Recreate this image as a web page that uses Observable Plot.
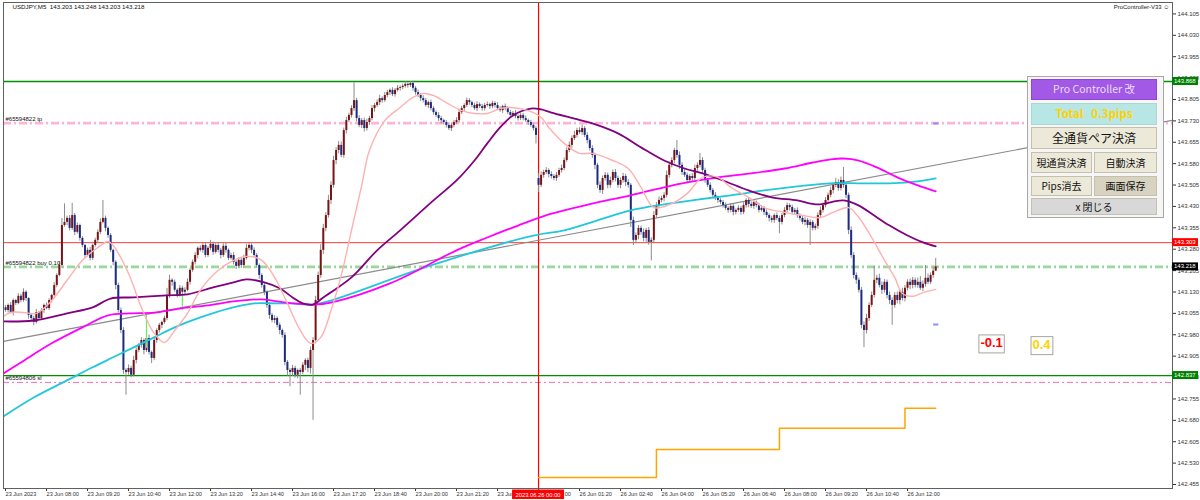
<!DOCTYPE html>
<html><head><meta charset="utf-8">
<script src="https://cdn.jsdelivr.net/npm/d3@7"></script>
<script src="https://cdn.jsdelivr.net/npm/@observablehq/plot@0.6"></script>
<style>
body{margin:0;background:#fff;width:1200px;height:500px;overflow:hidden;font-family:"Liberation Sans",Arial,sans-serif;}
#wrap{position:relative;width:1200px;height:500px;}
#wrap svg{display:block;}
.panel{position:absolute;left:1027px;top:76px;width:137px;height:142px;background:#f6f6f6;border:1px solid #a8a8a8;box-sizing:border-box;}
.btn{position:absolute;box-sizing:border-box;display:flex;align-items:center;justify-content:center;font-family:"Noto Sans CJK JP",sans-serif;border:1px solid #c4c0ac;background:#ece9d8;color:#111;white-space:pre;line-height:1;}
</style></head>
<body><div id="wrap"></div>
<script>
// ---- data (USDJPY M5, bar index 0 = 23 Jun 06:40, bar 208 = 26 Jun 00:00) ----
const firstOpen = 143.075;
const mondayBar = 208, mondayOpen = 143.528;
const closes = [
143.065,143.083,143.058,143.100,143.090,143.115,143.100,143.129,143.107,143.048,
143.037,143.023,143.058,143.037,143.065,143.083,143.072,143.100,143.118,143.153,
143.188,143.223,143.363,143.374,143.388,143.353,143.398,143.339,143.363,143.318,
143.293,143.258,143.276,143.248,143.293,143.311,143.339,143.374,143.388,143.353,
143.328,143.276,143.234,143.153,143.065,142.995,142.855,142.848,142.862,142.838,
142.890,142.925,142.943,142.960,142.925,142.967,142.918,142.897,142.960,142.995,
143.013,143.023,143.037,143.118,143.171,143.164,143.136,143.118,143.143,143.129,
143.136,143.164,143.206,143.234,143.258,143.283,143.276,143.293,143.258,143.283,
143.297,143.269,143.293,143.276,143.258,143.290,143.276,143.248,143.258,143.234,
143.220,143.241,143.223,143.248,143.283,143.293,143.276,143.258,143.223,143.188,
143.153,143.129,143.083,143.048,143.030,143.037,143.013,142.995,142.978,142.883,
142.855,142.848,142.862,142.838,142.855,142.848,142.873,142.890,142.862,142.925,
142.960,143.100,143.188,143.276,143.353,143.398,143.451,143.504,143.591,143.626,
143.644,143.609,143.696,143.731,143.749,143.773,143.801,143.738,143.714,143.731,
143.703,143.724,143.738,143.773,143.784,143.794,143.808,143.801,143.819,143.829,
143.837,143.822,143.837,143.844,143.847,143.851,143.858,143.854,143.861,143.844,
143.829,143.819,143.808,143.801,143.784,143.794,143.773,143.759,143.749,143.738,
143.731,143.724,143.714,143.703,143.714,143.724,143.731,143.759,143.773,143.784,
143.801,143.794,143.784,143.773,143.787,143.780,143.773,143.784,143.787,143.780,
143.791,143.784,143.773,143.766,143.780,143.773,143.759,143.749,143.756,143.745,
143.738,143.749,143.738,143.731,143.724,143.714,143.703,143.679,143.504,143.539,
143.549,143.556,143.542,143.535,143.528,143.539,143.556,143.563,143.591,143.626,
143.644,143.668,143.679,143.696,143.689,143.703,143.679,143.661,143.633,143.609,
143.574,143.504,143.486,143.528,143.539,143.504,143.521,143.549,143.528,143.504,
143.521,143.535,143.514,143.504,143.381,143.311,143.328,143.353,143.339,143.318,
143.346,143.304,143.311,143.398,143.433,143.451,143.458,143.469,143.539,143.574,
143.591,143.626,143.609,143.574,143.549,143.539,143.521,143.535,143.528,143.563,
143.574,143.591,143.556,143.521,143.504,143.486,143.469,143.458,143.451,143.444,
143.433,143.423,143.416,143.430,143.409,143.416,143.423,143.409,143.433,143.451,
143.437,143.430,143.444,143.433,143.416,143.423,143.409,143.398,143.388,143.381,
143.398,143.388,143.374,143.398,143.416,143.433,143.426,143.409,143.416,143.398,
143.388,143.374,143.381,143.363,143.374,143.353,143.360,143.398,143.416,143.433,
143.451,143.469,143.486,143.504,143.514,143.493,143.521,143.504,143.469,143.346,
143.258,143.188,143.171,143.136,143.013,142.995,143.037,143.083,143.118,143.171,
143.178,143.153,143.136,143.164,143.118,143.100,143.083,143.118,143.100,143.129,
143.107,143.143,143.164,143.153,143.171,143.153,143.164,143.143,143.157,143.178,
143.164,143.188,143.203,143.218];
// wick extents beyond the body, in 0.001
const wickUp = [
8,5,10,6,4,9,7,12,5,3,6,8,11,4,7,5,9,6,4,10,
6,12,25,65,8,10,43,7,9,5,6,4,8,10,5,7,9,12,63,8,
5,7,4,6,8,9,10,6,12,8,15,9,7,10,6,8,12,5,9,6,
7,5,9,25,18,6,8,5,10,7,9,12,6,8,10,5,9,7,11,6,
14,8,6,10,7,9,12,5,8,10,6,9,7,11,15,8,6,9,7,5,
6,8,5,9,7,10,6,8,5,9,7,6,10,8,5,7,9,6,8,12,
10,15,12,20,14,10,18,12,15,10,14,12,9,11,8,10,62,8,10,7,
9,12,8,10,7,9,12,6,10,8,5,9,7,10,6,8,9,5,7,8,
6,9,7,10,8,5,9,7,6,10,8,5,7,9,6,8,10,12,8,6,
9,7,5,8,10,6,8,7,9,5,8,6,10,7,5,9,6,8,7,10,
6,8,7,9,5,8,6,7,17,12,8,10,6,9,7,10,8,12,9,10,
12,9,15,8,10,12,7,9,6,10,8,7,12,9,10,8,12,9,10,8,
9,11,8,10,6,12,9,10,8,12,7,10,9,14,10,12,8,9,15,12,
10,8,35,12,9,10,8,7,10,12,9,25,10,8,6,9,7,10,8,6,
7,9,6,10,8,5,9,7,10,6,8,9,7,5,8,10,7,9,6,8,
6,9,8,7,10,9,6,8,7,9,6,8,10,7,9,6,8,10,12,9,
10,8,12,9,14,10,12,46,10,8,12,10,9,8,10,12,15,9,12,50,
10,14,12,10,8,12,9,10,12,8,14,10,9,12,10,8,15,20,12,45,15,9,12,30];
const wickDn = [
6,9,4,12,7,5,8,6,10,14,9,11,5,8,6,10,4,7,9,5,
8,5,10,6,12,9,7,11,6,10,8,12,5,9,7,6,10,8,5,12,
10,8,12,15,9,11,14,80,10,9,6,12,8,10,15,7,9,18,8,10,
9,12,6,8,10,14,7,9,6,11,8,5,10,7,9,12,6,10,8,7,
8,10,6,9,12,7,10,8,6,9,11,7,10,8,6,9,12,7,10,14,
9,12,10,14,8,11,9,15,10,12,20,50,14,10,12,80,9,18,15,20,
245,12,8,10,15,12,9,14,10,15,12,8,10,12,7,9,10,12,8,11,
12,9,10,8,12,7,10,9,6,8,10,7,9,6,10,8,6,9,7,10,
9,7,10,8,6,11,8,9,7,10,12,8,9,7,10,8,6,9,7,10,
7,9,8,6,10,7,9,8,6,10,7,9,8,6,10,8,7,9,6,8,
9,7,8,6,10,7,9,30,25,8,10,7,12,9,8,10,7,9,8,6,
8,10,7,9,6,10,8,12,9,10,15,12,10,14,9,12,10,8,12,10,
12,9,14,10,25,18,12,15,10,12,14,10,65,12,9,10,8,12,9,10,
9,12,10,14,10,8,9,10,12,8,10,9,12,10,8,9,12,7,10,8,
9,7,10,8,12,9,7,10,8,9,12,7,10,8,9,6,10,8,12,9,
10,8,40,9,8,10,12,9,7,10,9,8,12,10,70,9,8,10,8,9,
8,10,9,12,8,10,9,10,12,15,10,12,14,10,12,60,12,10,8,9,
12,9,15,10,12,14,70,10,12,15,9,12,10,14,12,9,10,8,12,10,9,8,10,0];

// moving averages (bar, price)
const pinkBars = [-2,2,7,12,18,24,30,36,40,42,48,53,58,62,66,71,76,83,89,94,100,105,110,115,119,123,127,131,135,139,142,148,154,159,163,167,172,178,183,188,193,197,204,209,212,218,224,229,237,243,248,253,260,266,272,278,283,290,296,304,311,318,323,329,333,338,343,347,350,354,358,363];
const pinkVals = [143.037,143.058,143.058,143.055,143.100,143.171,143.241,143.286,143.307,143.293,143.195,143.076,142.985,142.953,142.995,143.055,143.136,143.206,143.241,143.255,143.241,143.181,143.090,142.995,142.950,142.971,143.065,143.188,143.346,143.504,143.626,143.731,143.777,143.812,143.826,143.819,143.794,143.766,143.756,143.756,143.773,143.777,143.766,143.742,143.707,143.651,143.616,143.616,143.591,143.563,143.497,143.426,143.440,143.475,143.532,143.532,143.497,143.462,143.426,143.409,143.398,143.391,143.409,143.426,143.391,143.321,143.241,143.181,143.125,143.115,143.128,143.139];
const purpleBars = [-2,11,24,34,41,50,63,71,81,89,94,101,107,112,116,120,124,127,135,145,154,167,176,183,188,193,198,205,209,213,222,229,239,248,257,265,272,280,290,299,309,317,327,333,339,345,352,358,363];
const purpleVals = [143.027,143.030,143.055,143.076,143.107,143.111,143.118,143.122,143.146,143.164,143.174,143.164,143.143,143.111,143.090,143.086,143.111,143.129,143.181,143.276,143.346,143.451,143.521,143.591,143.651,143.707,143.749,143.773,143.770,143.759,143.738,143.721,143.686,143.637,143.591,143.563,143.546,143.521,143.486,143.462,143.451,143.437,143.451,143.433,143.398,143.363,143.328,143.304,143.290];
const magentaBars = [-2,6,18,30,40,48,58,68,79,89,100,106,112,120,127,150,176,188,200,212,218,231,244,257,266,278,291,304,315,322,327,333,340,348,356,363];
const magentaVals = [142.838,142.883,142.950,143.006,143.048,143.055,143.058,143.072,143.083,143.097,143.104,143.097,143.090,143.086,143.093,143.160,143.276,143.321,143.363,143.402,143.416,143.444,143.469,143.497,143.514,143.532,143.546,143.563,143.584,143.595,143.598,143.591,143.567,143.532,143.504,143.483];
const cyanBars = [-2,11,24,34,42,50,58,66,76,87,97,105,112,120,127,166,206,218,231,244,257,270,283,296,309,322,333,345,356,363];
const cyanVals = [142.687,142.760,142.820,142.866,142.901,142.936,142.971,143.006,143.041,143.072,143.090,143.090,143.090,143.086,143.100,143.223,143.328,143.346,143.381,143.416,143.437,143.454,143.469,143.486,143.500,143.511,143.511,143.511,143.518,143.528];

// trend line anchors (bar, price)
const trendBars = [0, 363];
const trendVals = [142.958, 143.575];
// orange step indicator
const stepBars = [208, 254, 302, 351, 363];
const stepVals = [142.480, 142.578, 142.652, 142.722, 142.722];
// order / level lines
const levelHigh = 143.868, levelRed = 143.303, levelBid = 143.218, levelLow = 142.837;
const tpLevel = 143.722, slLevel = 142.813;
const orderLabels = ["#65594822 tp", "#65594822 buy 0.10", "#65594806 sl"];
const orderLabelLevels = [tpLevel, levelBid, slLevel];
const signalBars = [55, 69];
const signalTop = [143.048, 143.118];
const signalBot = [142.932, 143.065];
const markerBars = [363.2, 363.2];
const markerVals = [143.721, 143.016];
const pipTexts = ["-0.1", "0.4"];
const pipColors = ["#ff0000", "#ffd200"];
const pipBars = [384.8, 404.3];
const pipVals = [142.952, 142.946];
// axes
const yTicks = [142.455,142.530,142.605,142.680,142.755,142.830,142.905,142.980,143.055,143.130,143.205,143.280,143.355,143.430,143.505,143.580,143.655,143.730,143.805,143.880,143.955,144.030,144.105];
const xTicks = [0,16,32,48,64,80,96,112,128,144,160,176,192,208,224,240,256,272,288,304,320,336,352];
const xLabels = ["23 Jun 2023","23 Jun 08:00","23 Jun 09:20","23 Jun 10:40","23 Jun 12:00","23 Jun 13:20","23 Jun 14:40","23 Jun 16:00","23 Jun 17:20","23 Jun 18:40","23 Jun 20:00","23 Jun 21:20","23 Jun 22:40","26 Jun 00:00","26 Jun 01:20","26 Jun 02:40","26 Jun 04:00","26 Jun 05:20","26 Jun 06:40","26 Jun 08:00","26 Jun 09:20","26 Jun 10:40","26 Jun 12:00"];
const priceTags = [levelHigh, levelRed, levelBid, levelLow];
const priceTagColors = ["#008000", "#ff0000", "#000000", "#008000"];
const headerText = "USDJPY,M5  143.203 143.248 143.203 143.218";
const separatorLabel = "2023.06.26 00:00";

// ---- build tables ----
const candles = closes.map((c, i) => {
  const o = i === 0 ? firstOpen : (i === mondayBar ? mondayOpen : closes[i - 1]);
  return {i, o, c, h: Math.max(o, c) + wickUp[i] / 1000, l: Math.min(o, c) - wickDn[i] / 1000};
});
const pts = (b, v) => b.map((x, k) => ({i: x, p: v[k]}));
const xDom = [-0.8, 455.4];
const slope = (trendVals[1] - trendVals[0]) / (trendBars[1] - trendBars[0]);
const trend = xDom.map(x => ({i: x, p: trendVals[0] + slope * (x - trendBars[0])}));
const dd = "8,3,2,3";

const chart = Plot.plot({
  width: 1200, height: 500,
  marginLeft: 3, marginRight: 28, marginTop: 2, marginBottom: 12,
  style: {fontFamily: "'Liberation Sans', Arial, sans-serif", fontSize: "6px", background: "#fff", overflow: "visible"},
  x: {domain: xDom},
  y: {domain: [142.441, 144.145]},
  marks: [
    Plot.ruleY([levelHigh], {stroke: "#009000", strokeWidth: 1.3}),
    Plot.ruleY([tpLevel], {stroke: "#ffb4d6", strokeWidth: 2.6, strokeDasharray: dd}),
    Plot.ruleY([levelRed], {stroke: "#ff3b3b", strokeWidth: 1}),
    Plot.ruleY([levelBid], {stroke: "#98d898", strokeWidth: 2.6, strokeDasharray: dd}),
    Plot.ruleY([levelLow], {stroke: "#009000", strokeWidth: 1.3}),
    Plot.ruleY([slLevel], {stroke: "#ff69b4", strokeWidth: 1, strokeDasharray: "6,3,2,3"}),
    Plot.ruleX([mondayBar], {stroke: "#ff0000", strokeWidth: 1.2}),
    Plot.line(trend, {x: "i", y: "p", stroke: "#8a8a8a", strokeWidth: 1.2, clip: true}),
    Plot.line(pts(stepBars, stepVals), {x: "i", y: "p", curve: "step-after", stroke: "#ffa500", strokeWidth: 1.5}),
    // candles
    Plot.ruleX(candles, {x: "i", y1: "l", y2: "h", stroke: "#8c8c8c", strokeWidth: 1}),
    Plot.ruleX(candles.filter(d => d.c >= d.o), {x: "i", y1: "o", y2: "c", stroke: "#7a1414", strokeWidth: 2}),
    Plot.ruleX(candles.filter(d => d.c < d.o), {x: "i", y1: "o", y2: "c", stroke: "#1c2c84", strokeWidth: 2}),
    Plot.ruleX(signalBars.map((b, k) => ({i: b, t: signalTop[k], b: signalBot[k]})), {x: "i", y1: "b", y2: "t", stroke: "#66ee66", strokeWidth: 1.2}),
    // moving averages
    Plot.line(pts(cyanBars, cyanVals), {x: "i", y: "p", stroke: "#22c8d8", strokeWidth: 1.8, curve: "catmull-rom", clip: true}),
    Plot.line(pts(magentaBars, magentaVals), {x: "i", y: "p", stroke: "#ff00ff", strokeWidth: 1.8, curve: "catmull-rom", clip: true}),
    Plot.line(pts(purpleBars, purpleVals), {x: "i", y: "p", stroke: "#800080", strokeWidth: 1.8, curve: "catmull-rom", clip: true}),
    Plot.line(pts(pinkBars, pinkVals), {x: "i", y: "p", stroke: "#ffb0b0", strokeWidth: 1.4, curve: "catmull-rom", clip: true}),
    // markers
    Plot.ruleY(markerBars.map((b, k) => ({a: b - 1, z: b + 1, p: markerVals[k]})), {x1: "a", x2: "z", y: "p", stroke: "#8c8cff", strokeWidth: 2}),
    // texts
    Plot.text(orderLabels.map((t, k) => ({t, p: orderLabelLevels[k]})), {frameAnchor: "left", y: "p", text: "t", textAnchor: "start", dx: 2, dy: -4, fontSize: 6, fill: "#111"}),
    Plot.text([headerText], {frameAnchor: "top-left", text: d => d, textAnchor: "start", lineAnchor: "middle", dx: 9, dy: 5, fontSize: 6.2, fill: "#111"}),
    Plot.text(["ProController-V33 \u263A"], {frameAnchor: "top-right", text: d => d, textAnchor: "end", lineAnchor: "middle", dx: -3, dy: 5, fontSize: 6, fill: "#222"}),
    Plot.text(pipTexts.map((t, k) => ({t, i: pipBars[k], p: pipVals[k], c: pipColors[k]})), {x: "i", y: "p", text: "t", fill: d => d.c, fontSize: 13, fontWeight: "bold"}),
    // axes & frame
    Plot.axisY({anchor: "right", ticks: yTicks, tickFormat: d => d.toFixed(3), tickSize: 3, tickPadding: 2, fontSize: 6, color: "#333", label: null}),
    Plot.axisX({anchor: "bottom", ticks: xTicks, tickFormat: d => xLabels[xTicks.indexOf(d)], tickSize: 3, tickPadding: 1, fontSize: 5.6, textAnchor: "start", color: "#333", label: null}),
    Plot.frame({stroke: "#606060"})
  ]
});

const wrap = document.getElementById("wrap");
wrap.appendChild(chart);
const svg = d3.select(chart);
const ys = chart.scale("y"), xs = chart.scale("x");

// boxes behind pip texts (inserted just before the text mark's group)
const svgRect = chart.getBoundingClientRect();
const pipNodes = Array.from(chart.querySelectorAll("text")).filter(t => pipTexts.includes(t.textContent));
if (pipNodes.length) {
  const markGroup = pipNodes[0].parentNode;
  const boxLayer = document.createElementNS("http://www.w3.org/2000/svg", "g");
  markGroup.parentNode.insertBefore(boxLayer, markGroup);
  pipNodes.forEach(t => {
    const r = t.getBoundingClientRect();
    d3.select(boxLayer).append("rect")
      .attr("x", r.left - svgRect.left - 1.5).attr("y", r.top - svgRect.top)
      .attr("width", r.width + 3).attr("height", r.height + 3)
      .attr("fill", "#fff").attr("stroke", "#aaa49a").attr("stroke-width", 1);
  });
}

// right-axis price tags
priceTags.forEach((v, k) => {
  const y = ys.apply(v);
  svg.append("rect").attr("x", 1172).attr("y", y - 4).attr("width", 26).attr("height", 8).attr("fill", priceTagColors[k]);
  svg.append("text").attr("x", 1174).attr("y", y).attr("dy", "0.35em").attr("fill", "#fff")
    .attr("text-anchor", "start").attr("font-size", "6px").text(v.toFixed(3));
});
// time separator tag
{
  const x = xs.apply(mondayBar);
  svg.append("rect").attr("x", x - 26).attr("y", 489.5).attr("width", 52).attr("height", 9.5).attr("fill", "#ff0000");
  svg.append("text").attr("x", x).attr("y", 494.5).attr("dy", "0.35em").attr("text-anchor", "middle")
    .attr("fill", "#fff").attr("font-size", "5.8px").text(separatorLabel);
}

// control panel (HTML overlay)
const panel = document.createElement("div");
panel.className = "panel";
wrap.appendChild(panel);
const buttons = [
  {t: "Pro Controller 改", l: 1031, tp: 79, w: 126, h: 21, bg: "#a259e6", c: "#eadcfa", fs: 10.5, b: "#8f45d6"},
  {t: "Total   0.3pips", l: 1031, tp: 103, w: 126, h: 22, bg: "#b8e6e4", c: "#ffd200", fs: 11.5, fw: "bold", b: "#a8d8d6"},
  {t: "全通貨ペア決済", l: 1031, tp: 127, w: 126, h: 22, bg: "#ece9d8", c: "#111", fs: 12},
  {t: "現通貨決済", l: 1031, tp: 152, w: 61, h: 21, bg: "#ece9d8", c: "#111", fs: 10},
  {t: "自動決済", l: 1094, tp: 152, w: 63, h: 21, bg: "#ece9d8", c: "#111", fs: 10},
  {t: "Pips消去", l: 1031, tp: 176, w: 61, h: 20, bg: "#ece9d8", c: "#111", fs: 10},
  {t: "画面保存", l: 1094, tp: 176, w: 63, h: 20, bg: "#d7d3c0", c: "#111", fs: 10},
  {t: "x 閉じる", l: 1031, tp: 198, w: 126, h: 17, bg: "#d8d8d8", c: "#111", fs: 10}
];
buttons.forEach(bt => {
  const d = document.createElement("div");
  d.className = "btn";
  d.textContent = bt.t;
  Object.assign(d.style, {left: bt.l + "px", top: bt.tp + "px", width: bt.w + "px", height: bt.h + "px",
    background: bt.bg, color: bt.c, fontSize: bt.fs + "px", fontWeight: bt.fw || "normal"});
  if (bt.b) d.style.borderColor = bt.b;
  wrap.appendChild(d);
});
</script></body></html>
